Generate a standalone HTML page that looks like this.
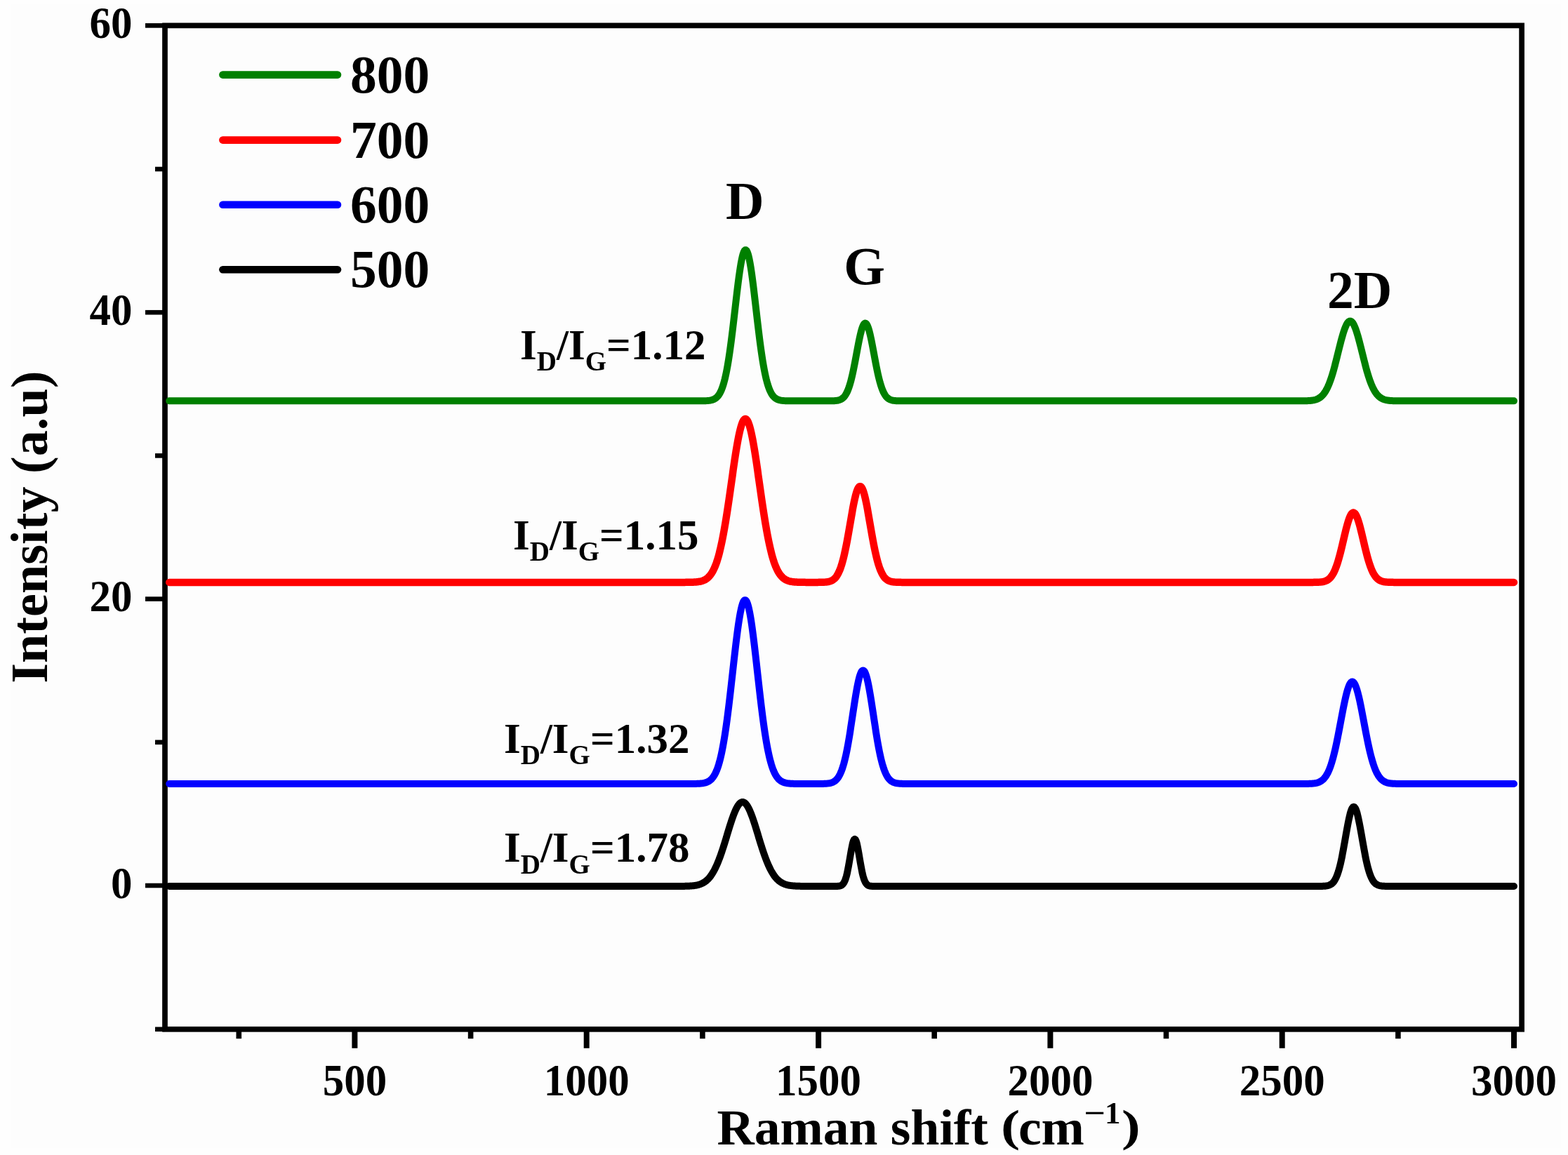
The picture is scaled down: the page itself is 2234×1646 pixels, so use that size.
<!DOCTYPE html>
<html><head><meta charset="utf-8"><title>Raman spectra</title>
<style>
html,body{margin:0;padding:0;background:#fefefe;}
svg{display:block;}
text{font-family:"Liberation Serif","Times New Roman",serif;font-weight:bold;fill:#000;}
</style></head><body>
<svg width="2234" height="1646" viewBox="0 0 2234 1646">
<rect x="0" y="0" width="2234" height="1646" fill="#fefefe"/>
<rect x="16" y="6" width="2208" height="1630" fill="#fdfdfd"/>

<rect x="235.0" y="36.4" width="1933.1" height="1430.4" fill="none" stroke="#000" stroke-width="7.7" stroke-linejoin="miter"/>
<path d="M241.2,571.35 L994.7,571.34 L995.7,571.34 L996.7,571.33 L997.7,571.33 L998.7,571.32 L999.7,571.31 L1000.7,571.30 L1001.7,571.29 L1002.7,571.27 L1003.7,571.24 L1004.7,571.21 L1005.7,571.17 L1006.7,571.12 L1007.7,571.06 L1008.7,570.98 L1009.7,570.88 L1010.7,570.76 L1011.7,570.61 L1012.7,570.42 L1013.7,570.19 L1014.7,569.92 L1015.7,569.59 L1016.7,569.19 L1017.7,568.71 L1018.7,568.14 L1019.7,567.46 L1020.7,566.67 L1021.7,565.73 L1022.7,564.64 L1023.7,563.36 L1024.7,561.90 L1025.7,560.21 L1026.7,558.27 L1027.7,556.07 L1028.7,553.58 L1029.7,550.77 L1030.7,547.62 L1031.7,544.12 L1032.7,540.24 L1033.7,535.96 L1034.7,531.27 L1035.7,526.16 L1036.7,520.62 L1037.7,514.66 L1038.7,508.27 L1039.7,501.49 L1040.7,494.31 L1041.7,486.77 L1042.7,478.91 L1043.7,470.77 L1044.7,462.39 L1045.7,453.84 L1046.7,445.17 L1047.7,436.48 L1048.7,427.82 L1049.7,419.28 L1050.7,410.95 L1051.7,402.91 L1052.7,395.26 L1053.7,388.07 L1054.7,381.44 L1055.7,375.44 L1056.7,370.14 L1057.7,365.62 L1058.7,361.93 L1059.7,359.12 L1060.7,357.22 L1061.7,356.27 L1062.7,356.27 L1063.7,357.22 L1064.7,359.12 L1065.7,361.93 L1066.7,365.62 L1067.7,370.14 L1068.7,375.44 L1069.7,381.44 L1070.7,388.07 L1071.7,395.26 L1072.7,402.91 L1073.7,410.95 L1074.7,419.28 L1075.7,427.82 L1076.7,436.48 L1077.7,445.17 L1078.7,453.84 L1079.7,462.39 L1080.7,470.77 L1081.7,478.91 L1082.7,486.77 L1083.7,494.31 L1084.7,501.49 L1085.7,508.27 L1086.7,514.66 L1087.7,520.62 L1088.7,526.16 L1089.7,531.27 L1090.7,535.96 L1091.7,540.24 L1092.7,544.12 L1093.7,547.62 L1094.7,550.77 L1095.7,553.58 L1096.7,556.07 L1097.7,558.27 L1098.7,560.21 L1099.7,561.90 L1100.7,563.36 L1101.7,564.64 L1102.7,565.73 L1103.7,566.67 L1104.7,567.46 L1105.7,568.14 L1106.7,568.71 L1107.7,569.19 L1108.7,569.59 L1109.7,569.92 L1110.7,570.19 L1111.7,570.42 L1112.7,570.61 L1113.7,570.76 L1114.7,570.88 L1115.7,570.98 L1116.7,571.06 L1117.7,571.12 L1118.7,571.17 L1119.7,571.21 L1120.7,571.24 L1121.7,571.27 L1122.7,571.29 L1123.7,571.30 L1124.7,571.31 L1125.7,571.32 L1126.7,571.33 L1127.7,571.33 L1128.7,571.34 L1129.7,571.34 L1176.8,571.35 L1177.8,571.34 L1178.8,571.34 L1179.8,571.34 L1180.8,571.33 L1181.8,571.33 L1182.8,571.32 L1183.8,571.30 L1184.8,571.28 L1185.8,571.26 L1186.8,571.23 L1187.8,571.19 L1188.8,571.14 L1189.8,571.07 L1190.8,570.98 L1191.8,570.86 L1192.8,570.72 L1193.8,570.53 L1194.8,570.30 L1195.8,570.02 L1196.8,569.66 L1197.8,569.23 L1198.8,568.70 L1199.8,568.06 L1200.8,567.29 L1201.8,566.37 L1202.8,565.29 L1203.8,564.02 L1204.8,562.54 L1205.8,560.82 L1206.8,558.86 L1207.8,556.62 L1208.8,554.10 L1209.8,551.27 L1210.8,548.13 L1211.8,544.67 L1212.8,540.89 L1213.8,536.81 L1214.8,532.43 L1215.8,527.77 L1216.8,522.87 L1217.8,517.76 L1218.8,512.51 L1219.8,507.15 L1220.8,501.75 L1221.8,496.38 L1222.8,491.12 L1223.8,486.05 L1224.8,481.23 L1225.8,476.76 L1226.8,472.71 L1227.8,469.14 L1228.8,466.13 L1229.8,463.72 L1230.8,461.97 L1231.8,460.91 L1232.8,460.55 L1233.7,460.91 L1234.7,461.97 L1235.7,463.72 L1236.7,466.13 L1237.7,469.14 L1238.7,472.71 L1239.7,476.76 L1240.7,481.23 L1241.7,486.05 L1242.7,491.12 L1243.7,496.38 L1244.7,501.75 L1245.7,507.15 L1246.7,512.51 L1247.7,517.76 L1248.7,522.87 L1249.7,527.77 L1250.7,532.43 L1251.7,536.81 L1252.7,540.89 L1253.7,544.67 L1254.7,548.13 L1255.7,551.27 L1256.7,554.10 L1257.7,556.62 L1258.7,558.86 L1259.7,560.82 L1260.7,562.54 L1261.7,564.02 L1262.7,565.29 L1263.7,566.37 L1264.7,567.29 L1265.7,568.06 L1266.7,568.70 L1267.7,569.23 L1268.7,569.66 L1269.7,570.02 L1270.7,570.30 L1271.7,570.53 L1272.7,570.72 L1273.7,570.86 L1274.7,570.98 L1275.7,571.07 L1276.7,571.14 L1277.7,571.19 L1278.7,571.23 L1279.7,571.26 L1280.7,571.28 L1281.7,571.30 L1282.7,571.32 L1283.7,571.33 L1284.7,571.33 L1285.7,571.34 L1286.7,571.34 L1287.7,571.34 L1288.7,571.35 L1846.8,571.35 L1847.8,571.34 L1848.8,571.34 L1849.8,571.34 L1850.8,571.34 L1851.8,571.33 L1852.8,571.33 L1853.8,571.32 L1854.8,571.32 L1855.8,571.31 L1856.8,571.30 L1857.8,571.28 L1858.8,571.27 L1859.7,571.25 L1860.7,571.22 L1861.7,571.19 L1862.7,571.15 L1863.7,571.11 L1864.7,571.05 L1865.7,570.99 L1866.7,570.91 L1867.7,570.81 L1868.7,570.70 L1869.7,570.57 L1870.7,570.41 L1871.7,570.23 L1872.7,570.01 L1873.7,569.76 L1874.7,569.46 L1875.7,569.12 L1876.7,568.73 L1877.7,568.28 L1878.7,567.77 L1879.7,567.18 L1880.7,566.51 L1881.7,565.75 L1882.7,564.90 L1883.7,563.95 L1884.7,562.88 L1885.7,561.69 L1886.7,560.36 L1887.7,558.91 L1888.7,557.30 L1889.7,555.55 L1890.7,553.63 L1891.7,551.55 L1892.7,549.30 L1893.7,546.88 L1894.7,544.29 L1895.7,541.52 L1896.7,538.58 L1897.7,535.48 L1898.7,532.21 L1899.7,528.80 L1900.7,525.24 L1901.7,521.56 L1902.6,517.76 L1903.6,513.88 L1904.6,509.92 L1905.6,505.91 L1906.6,501.88 L1907.6,497.85 L1908.6,493.86 L1909.6,489.92 L1910.6,486.08 L1911.6,482.36 L1912.6,478.79 L1913.6,475.42 L1914.6,472.25 L1915.6,469.33 L1916.6,466.69 L1917.6,464.34 L1918.6,462.31 L1919.6,460.62 L1920.6,459.29 L1921.6,458.32 L1922.6,457.74 L1923.6,457.55 L1924.6,457.74 L1925.6,458.32 L1926.6,459.29 L1927.6,460.62 L1928.6,462.31 L1929.6,464.34 L1930.6,466.69 L1931.6,469.33 L1932.6,472.25 L1933.6,475.42 L1934.6,478.79 L1935.6,482.36 L1936.6,486.08 L1937.6,489.92 L1938.6,493.86 L1939.6,497.85 L1940.6,501.88 L1941.6,505.91 L1942.6,509.92 L1943.6,513.88 L1944.6,517.76 L1945.5,521.56 L1946.5,525.24 L1947.5,528.80 L1948.5,532.21 L1949.5,535.48 L1950.5,538.58 L1951.5,541.52 L1952.5,544.29 L1953.5,546.88 L1954.5,549.30 L1955.5,551.55 L1956.5,553.63 L1957.5,555.55 L1958.5,557.30 L1959.5,558.91 L1960.5,560.36 L1961.5,561.69 L1962.5,562.88 L1963.5,563.95 L1964.5,564.90 L1965.5,565.75 L1966.5,566.51 L1967.5,567.18 L1968.5,567.77 L1969.5,568.28 L1970.5,568.73 L1971.5,569.12 L1972.5,569.46 L1973.5,569.76 L1974.5,570.01 L1975.5,570.23 L1976.5,570.41 L1977.5,570.57 L1978.5,570.70 L1979.5,570.81 L1980.5,570.91 L1981.5,570.99 L1982.5,571.05 L1983.5,571.11 L1984.5,571.15 L1985.5,571.19 L1986.5,571.22 L1987.5,571.25 L1988.4,571.27 L1989.4,571.28 L1990.4,571.30 L1991.4,571.31 L1992.4,571.32 L1993.4,571.32 L1994.4,571.33 L1995.4,571.33 L1996.4,571.34 L1997.4,571.34 L1998.4,571.34 L1999.4,571.34 L2000.4,571.35 L2157.0,571.35" fill="none" stroke="#008000" stroke-width="10.0" stroke-linejoin="round" stroke-linecap="round"/>
<path d="M241.2,829.90 L971.9,829.89 L972.9,829.89 L973.9,829.89 L974.9,829.88 L975.9,829.88 L976.9,829.87 L977.9,829.87 L978.9,829.86 L979.9,829.85 L980.9,829.84 L981.9,829.82 L982.9,829.81 L983.9,829.79 L984.9,829.76 L985.9,829.73 L986.9,829.70 L987.9,829.66 L988.8,829.61 L989.8,829.55 L990.8,829.48 L991.8,829.40 L992.8,829.31 L993.8,829.20 L994.8,829.07 L995.8,828.92 L996.8,828.74 L997.8,828.54 L998.8,828.31 L999.8,828.04 L1000.8,827.73 L1001.8,827.38 L1002.8,826.97 L1003.8,826.51 L1004.8,825.99 L1005.8,825.40 L1006.8,824.73 L1007.7,823.98 L1008.7,823.13 L1009.7,822.18 L1010.7,821.12 L1011.7,819.94 L1012.7,818.63 L1013.7,817.18 L1014.7,815.58 L1015.7,813.82 L1016.7,811.88 L1017.7,809.76 L1018.7,807.44 L1019.7,804.93 L1020.7,802.19 L1021.7,799.24 L1022.7,796.05 L1023.7,792.62 L1024.7,788.95 L1025.6,785.03 L1026.6,780.85 L1027.6,776.42 L1028.6,771.73 L1029.6,766.78 L1030.6,761.58 L1031.6,756.14 L1032.6,750.46 L1033.6,744.56 L1034.6,738.44 L1035.6,732.12 L1036.6,725.63 L1037.6,718.98 L1038.6,712.20 L1039.6,705.32 L1040.6,698.35 L1041.6,691.34 L1042.6,684.32 L1043.6,677.32 L1044.5,670.37 L1045.5,663.52 L1046.5,656.81 L1047.5,650.27 L1048.5,643.94 L1049.5,637.87 L1050.5,632.09 L1051.5,626.63 L1052.5,621.54 L1053.5,616.85 L1054.5,612.60 L1055.5,608.81 L1056.5,605.50 L1057.5,602.71 L1058.5,600.45 L1059.5,598.74 L1060.5,597.60 L1061.5,597.02 L1062.4,597.02 L1063.4,597.60 L1064.4,598.74 L1065.4,600.45 L1066.4,602.71 L1067.4,605.50 L1068.4,608.81 L1069.4,612.60 L1070.4,616.85 L1071.4,621.54 L1072.4,626.63 L1073.4,632.09 L1074.4,637.87 L1075.4,643.94 L1076.4,650.27 L1077.4,656.81 L1078.4,663.52 L1079.4,670.37 L1080.3,677.32 L1081.3,684.32 L1082.3,691.34 L1083.3,698.35 L1084.3,705.32 L1085.3,712.20 L1086.3,718.98 L1087.3,725.63 L1088.3,732.12 L1089.3,738.44 L1090.3,744.56 L1091.3,750.46 L1092.3,756.14 L1093.3,761.58 L1094.3,766.78 L1095.3,771.73 L1096.3,776.42 L1097.3,780.85 L1098.3,785.03 L1099.2,788.95 L1100.2,792.62 L1101.2,796.05 L1102.2,799.24 L1103.2,802.19 L1104.2,804.93 L1105.2,807.44 L1106.2,809.76 L1107.2,811.88 L1108.2,813.82 L1109.2,815.58 L1110.2,817.18 L1111.2,818.63 L1112.2,819.94 L1113.2,821.12 L1114.2,822.18 L1115.2,823.13 L1116.2,823.98 L1117.1,824.73 L1118.1,825.40 L1119.1,825.99 L1120.1,826.51 L1121.1,826.97 L1122.1,827.38 L1123.1,827.73 L1124.1,828.04 L1125.1,828.31 L1126.1,828.54 L1127.1,828.74 L1128.1,828.92 L1129.1,829.07 L1130.1,829.20 L1131.1,829.31 L1132.1,829.40 L1133.1,829.48 L1134.1,829.55 L1135.1,829.61 L1136.0,829.66 L1137.0,829.70 L1138.0,829.73 L1139.0,829.76 L1140.0,829.79 L1141.0,829.81 L1142.0,829.82 L1143.0,829.84 L1144.0,829.85 L1145.0,829.86 L1146.0,829.87 L1147.0,829.87 L1148.0,829.88 L1149.0,829.88 L1150.0,829.89 L1151.0,829.89 L1152.0,829.89 L1161.2,829.89 L1162.2,829.89 L1163.2,829.89 L1164.2,829.89 L1165.2,829.88 L1166.2,829.87 L1167.2,829.87 L1168.2,829.86 L1169.2,829.84 L1170.2,829.82 L1171.1,829.80 L1172.1,829.77 L1173.1,829.73 L1174.1,829.68 L1175.1,829.62 L1176.1,829.55 L1177.1,829.45 L1178.1,829.34 L1179.1,829.19 L1180.1,829.01 L1181.1,828.80 L1182.1,828.53 L1183.1,828.21 L1184.1,827.83 L1185.1,827.37 L1186.1,826.83 L1187.1,826.19 L1188.1,825.43 L1189.1,824.55 L1190.1,823.53 L1191.1,822.35 L1192.1,820.99 L1193.0,819.43 L1194.0,817.67 L1195.0,815.68 L1196.0,813.44 L1197.0,810.95 L1198.0,808.18 L1199.0,805.13 L1200.0,801.78 L1201.0,798.15 L1202.0,794.21 L1203.0,789.98 L1204.0,785.47 L1205.0,780.69 L1206.0,775.66 L1207.0,770.40 L1208.0,764.96 L1209.0,759.35 L1210.0,753.64 L1211.0,747.86 L1212.0,742.08 L1213.0,736.34 L1214.0,730.71 L1214.9,725.26 L1215.9,720.04 L1216.9,715.12 L1217.9,710.56 L1218.9,706.42 L1219.9,702.76 L1220.9,699.63 L1221.9,697.07 L1222.9,695.12 L1223.9,693.80 L1224.9,693.13 L1225.9,693.13 L1226.9,693.80 L1227.9,695.12 L1228.9,697.07 L1229.9,699.63 L1230.9,702.76 L1231.9,706.42 L1232.9,710.56 L1233.9,715.12 L1234.9,720.04 L1235.9,725.26 L1236.8,730.71 L1237.8,736.34 L1238.8,742.08 L1239.8,747.86 L1240.8,753.64 L1241.8,759.35 L1242.8,764.96 L1243.8,770.40 L1244.8,775.66 L1245.8,780.69 L1246.8,785.47 L1247.8,789.98 L1248.8,794.21 L1249.8,798.15 L1250.8,801.78 L1251.8,805.13 L1252.8,808.18 L1253.8,810.95 L1254.8,813.44 L1255.8,815.68 L1256.8,817.67 L1257.8,819.43 L1258.7,820.99 L1259.7,822.35 L1260.7,823.53 L1261.7,824.55 L1262.7,825.43 L1263.7,826.19 L1264.7,826.83 L1265.7,827.37 L1266.7,827.83 L1267.7,828.21 L1268.7,828.53 L1269.7,828.80 L1270.7,829.01 L1271.7,829.19 L1272.7,829.34 L1273.7,829.45 L1274.7,829.55 L1275.7,829.62 L1276.7,829.68 L1277.7,829.73 L1278.7,829.77 L1279.7,829.80 L1280.6,829.82 L1281.6,829.84 L1282.6,829.86 L1283.6,829.87 L1284.6,829.88 L1285.6,829.88 L1286.6,829.89 L1287.6,829.89 L1288.6,829.89 L1289.6,829.89 L1864.8,829.90 L1865.8,829.89 L1866.8,829.89 L1867.8,829.89 L1868.8,829.89 L1869.8,829.88 L1870.7,829.88 L1871.7,829.87 L1872.7,829.86 L1873.7,829.84 L1874.7,829.82 L1875.7,829.80 L1876.7,829.77 L1877.7,829.74 L1878.7,829.69 L1879.7,829.63 L1880.7,829.56 L1881.7,829.46 L1882.7,829.35 L1883.7,829.21 L1884.7,829.04 L1885.7,828.83 L1886.7,828.58 L1887.7,828.28 L1888.7,827.92 L1889.7,827.50 L1890.7,826.99 L1891.7,826.40 L1892.7,825.70 L1893.7,824.90 L1894.7,823.97 L1895.7,822.90 L1896.7,821.68 L1897.7,820.29 L1898.7,818.73 L1899.7,816.98 L1900.7,815.03 L1901.7,812.87 L1902.7,810.49 L1903.7,807.89 L1904.7,805.07 L1905.7,802.03 L1906.7,798.78 L1907.7,795.32 L1908.7,791.66 L1909.7,787.83 L1910.7,783.85 L1911.7,779.75 L1912.7,775.55 L1913.7,771.30 L1914.7,767.03 L1915.7,762.79 L1916.7,758.62 L1917.7,754.58 L1918.7,750.70 L1919.7,747.03 L1920.7,743.64 L1921.7,740.55 L1922.7,737.82 L1923.7,735.48 L1924.7,733.56 L1925.7,732.10 L1926.7,731.11 L1927.7,730.61 L1928.7,730.61 L1929.7,731.11 L1930.7,732.10 L1931.7,733.56 L1932.7,735.48 L1933.7,737.82 L1934.7,740.55 L1935.7,743.64 L1936.7,747.03 L1937.7,750.70 L1938.7,754.58 L1939.7,758.62 L1940.7,762.79 L1941.7,767.03 L1942.7,771.30 L1943.7,775.55 L1944.7,779.75 L1945.7,783.85 L1946.7,787.83 L1947.7,791.66 L1948.7,795.32 L1949.7,798.78 L1950.7,802.03 L1951.7,805.07 L1952.7,807.89 L1953.7,810.49 L1954.7,812.87 L1955.7,815.03 L1956.7,816.98 L1957.7,818.73 L1958.7,820.29 L1959.7,821.68 L1960.7,822.90 L1961.7,823.97 L1962.7,824.90 L1963.7,825.70 L1964.7,826.40 L1965.7,826.99 L1966.7,827.50 L1967.7,827.92 L1968.7,828.28 L1969.7,828.58 L1970.7,828.83 L1971.7,829.04 L1972.7,829.21 L1973.7,829.35 L1974.7,829.46 L1975.7,829.56 L1976.7,829.63 L1977.7,829.69 L1978.7,829.74 L1979.7,829.77 L1980.7,829.80 L1981.7,829.82 L1982.7,829.84 L1983.7,829.86 L1984.7,829.87 L1985.7,829.88 L1986.6,829.88 L1987.6,829.89 L1988.6,829.89 L1989.6,829.89 L1990.6,829.89 L1991.6,829.90 L2157.0,829.90" fill="none" stroke="#ff0000" stroke-width="10.5" stroke-linejoin="round" stroke-linecap="round"/>
<path d="M241.2,1117.00 L982.0,1116.99 L983.0,1116.99 L984.0,1116.98 L985.0,1116.98 L986.0,1116.97 L987.0,1116.96 L988.0,1116.95 L989.0,1116.94 L990.0,1116.93 L991.0,1116.91 L992.0,1116.89 L993.0,1116.86 L994.0,1116.82 L995.0,1116.78 L996.0,1116.73 L997.0,1116.67 L998.0,1116.59 L999.0,1116.50 L1000.0,1116.39 L1001.0,1116.26 L1002.0,1116.10 L1003.0,1115.91 L1004.0,1115.69 L1005.0,1115.43 L1006.0,1115.12 L1007.0,1114.75 L1008.0,1114.33 L1009.0,1113.83 L1010.0,1113.26 L1011.0,1112.60 L1012.0,1111.83 L1013.0,1110.95 L1014.0,1109.95 L1015.0,1108.80 L1016.0,1107.50 L1017.0,1106.02 L1018.0,1104.36 L1019.0,1102.49 L1020.0,1100.41 L1021.0,1098.08 L1022.0,1095.49 L1023.0,1092.62 L1024.0,1089.47 L1025.0,1086.00 L1026.0,1082.21 L1027.0,1078.09 L1028.0,1073.61 L1029.0,1068.77 L1030.0,1063.56 L1031.0,1057.98 L1032.0,1052.03 L1033.0,1045.70 L1034.0,1039.01 L1035.0,1031.96 L1036.0,1024.57 L1037.0,1016.86 L1038.0,1008.86 L1039.0,1000.59 L1040.0,992.09 L1041.0,983.39 L1042.0,974.55 L1043.0,965.61 L1044.0,956.62 L1045.0,947.64 L1046.0,938.74 L1047.0,929.96 L1048.0,921.38 L1049.0,913.06 L1050.0,905.06 L1051.0,897.46 L1052.0,890.31 L1053.0,883.68 L1054.0,877.62 L1055.0,872.19 L1056.0,867.44 L1057.0,863.41 L1058.0,860.14 L1059.0,857.66 L1060.0,855.99 L1061.0,855.15 L1062.0,855.15 L1063.0,855.99 L1064.0,857.66 L1065.0,860.14 L1066.0,863.41 L1067.0,867.44 L1068.0,872.19 L1069.0,877.62 L1070.0,883.68 L1071.0,890.31 L1072.0,897.46 L1073.0,905.06 L1074.0,913.06 L1075.0,921.38 L1076.0,929.96 L1077.0,938.74 L1078.0,947.64 L1079.0,956.62 L1080.0,965.61 L1081.0,974.55 L1082.0,983.39 L1083.0,992.09 L1084.0,1000.59 L1085.0,1008.86 L1086.0,1016.86 L1087.0,1024.57 L1088.0,1031.96 L1089.0,1039.01 L1090.0,1045.70 L1091.0,1052.03 L1092.0,1057.98 L1093.0,1063.56 L1094.0,1068.77 L1095.0,1073.61 L1096.0,1078.09 L1097.0,1082.21 L1098.0,1086.00 L1099.0,1089.47 L1100.0,1092.62 L1101.0,1095.49 L1102.0,1098.08 L1103.0,1100.41 L1104.0,1102.49 L1105.0,1104.36 L1106.0,1106.02 L1107.0,1107.50 L1108.0,1108.80 L1109.0,1109.95 L1110.0,1110.95 L1111.0,1111.83 L1112.0,1112.60 L1113.0,1113.26 L1114.0,1113.83 L1115.0,1114.33 L1116.0,1114.75 L1117.0,1115.12 L1118.0,1115.43 L1119.0,1115.69 L1120.0,1115.91 L1121.0,1116.10 L1122.0,1116.26 L1123.0,1116.39 L1124.0,1116.50 L1125.0,1116.59 L1126.0,1116.67 L1127.0,1116.73 L1128.0,1116.78 L1129.0,1116.82 L1130.0,1116.86 L1131.0,1116.89 L1132.0,1116.91 L1133.0,1116.93 L1134.0,1116.94 L1135.0,1116.95 L1136.0,1116.96 L1137.0,1116.97 L1138.0,1116.98 L1139.0,1116.98 L1140.0,1116.99 L1141.0,1116.99 L1163.3,1116.99 L1164.3,1116.99 L1165.3,1116.99 L1166.3,1116.98 L1167.3,1116.98 L1168.3,1116.97 L1169.3,1116.96 L1170.3,1116.95 L1171.3,1116.94 L1172.3,1116.92 L1173.3,1116.89 L1174.3,1116.86 L1175.3,1116.82 L1176.3,1116.77 L1177.2,1116.71 L1178.2,1116.63 L1179.2,1116.53 L1180.2,1116.41 L1181.2,1116.26 L1182.2,1116.08 L1183.2,1115.86 L1184.2,1115.59 L1185.2,1115.26 L1186.2,1114.88 L1187.2,1114.41 L1188.2,1113.87 L1189.2,1113.22 L1190.2,1112.46 L1191.2,1111.57 L1192.2,1110.54 L1193.2,1109.35 L1194.2,1107.98 L1195.2,1106.41 L1196.2,1104.62 L1197.2,1102.60 L1198.2,1100.33 L1199.2,1097.79 L1200.2,1094.96 L1201.2,1091.83 L1202.2,1088.39 L1203.2,1084.62 L1204.2,1080.53 L1205.2,1076.10 L1206.2,1071.35 L1207.2,1066.28 L1208.2,1060.90 L1209.2,1055.24 L1210.2,1049.32 L1211.2,1043.17 L1212.1,1036.82 L1213.1,1030.33 L1214.1,1023.74 L1215.1,1017.11 L1216.1,1010.50 L1217.1,1003.97 L1218.1,997.58 L1219.1,991.41 L1220.1,985.53 L1221.1,980.00 L1222.1,974.88 L1223.1,970.25 L1224.1,966.17 L1225.1,962.67 L1226.1,959.82 L1227.1,957.65 L1228.1,956.18 L1229.1,955.44 L1230.1,955.44 L1231.1,956.18 L1232.1,957.65 L1233.1,959.82 L1234.1,962.67 L1235.1,966.17 L1236.1,970.25 L1237.1,974.88 L1238.1,980.00 L1239.1,985.53 L1240.1,991.41 L1241.1,997.58 L1242.1,1003.97 L1243.1,1010.50 L1244.1,1017.11 L1245.1,1023.74 L1246.1,1030.33 L1247.1,1036.82 L1248.0,1043.17 L1249.0,1049.32 L1250.0,1055.24 L1251.0,1060.90 L1252.0,1066.28 L1253.0,1071.35 L1254.0,1076.10 L1255.0,1080.53 L1256.0,1084.62 L1257.0,1088.39 L1258.0,1091.83 L1259.0,1094.96 L1260.0,1097.79 L1261.0,1100.33 L1262.0,1102.60 L1263.0,1104.62 L1264.0,1106.41 L1265.0,1107.98 L1266.0,1109.35 L1267.0,1110.54 L1268.0,1111.57 L1269.0,1112.46 L1270.0,1113.22 L1271.0,1113.87 L1272.0,1114.41 L1273.0,1114.88 L1274.0,1115.26 L1275.0,1115.59 L1276.0,1115.86 L1277.0,1116.08 L1278.0,1116.26 L1279.0,1116.41 L1280.0,1116.53 L1281.0,1116.63 L1282.0,1116.71 L1282.9,1116.77 L1283.9,1116.82 L1284.9,1116.86 L1285.9,1116.89 L1286.9,1116.92 L1287.9,1116.94 L1288.9,1116.95 L1289.9,1116.96 L1290.9,1116.97 L1291.9,1116.98 L1292.9,1116.98 L1293.9,1116.99 L1294.9,1116.99 L1295.9,1116.99 L1852.3,1116.99 L1853.3,1116.99 L1854.3,1116.99 L1855.3,1116.99 L1856.3,1116.98 L1857.3,1116.98 L1858.3,1116.97 L1859.3,1116.96 L1860.3,1116.95 L1861.3,1116.94 L1862.3,1116.93 L1863.3,1116.91 L1864.3,1116.88 L1865.3,1116.85 L1866.3,1116.82 L1867.3,1116.77 L1868.3,1116.72 L1869.3,1116.65 L1870.3,1116.57 L1871.3,1116.47 L1872.3,1116.35 L1873.3,1116.21 L1874.3,1116.05 L1875.3,1115.85 L1876.3,1115.61 L1877.3,1115.33 L1878.3,1115.01 L1879.3,1114.63 L1880.3,1114.18 L1881.2,1113.67 L1882.2,1113.07 L1883.2,1112.39 L1884.2,1111.61 L1885.2,1110.71 L1886.2,1109.70 L1887.2,1108.55 L1888.2,1107.26 L1889.2,1105.81 L1890.2,1104.19 L1891.2,1102.39 L1892.2,1100.40 L1893.2,1098.21 L1894.2,1095.81 L1895.2,1093.18 L1896.2,1090.33 L1897.2,1087.25 L1898.2,1083.93 L1899.2,1080.37 L1900.2,1076.58 L1901.2,1072.55 L1902.2,1068.31 L1903.2,1063.85 L1904.2,1059.20 L1905.2,1054.37 L1906.2,1049.38 L1907.2,1044.26 L1908.2,1039.04 L1909.2,1033.75 L1910.2,1028.42 L1911.2,1023.10 L1912.2,1017.82 L1913.2,1012.62 L1914.2,1007.55 L1915.2,1002.65 L1916.2,997.97 L1917.2,993.54 L1918.2,989.42 L1919.2,985.64 L1920.2,982.25 L1921.2,979.26 L1922.2,976.73 L1923.2,974.67 L1924.2,973.10 L1925.2,972.05 L1926.2,971.52 L1927.1,971.52 L1928.1,972.05 L1929.1,973.10 L1930.1,974.67 L1931.1,976.73 L1932.1,979.26 L1933.1,982.25 L1934.1,985.64 L1935.1,989.42 L1936.1,993.54 L1937.1,997.97 L1938.1,1002.65 L1939.1,1007.55 L1940.1,1012.62 L1941.1,1017.82 L1942.1,1023.10 L1943.1,1028.42 L1944.1,1033.75 L1945.1,1039.04 L1946.1,1044.26 L1947.1,1049.38 L1948.1,1054.37 L1949.1,1059.20 L1950.1,1063.85 L1951.1,1068.31 L1952.1,1072.55 L1953.1,1076.58 L1954.1,1080.37 L1955.1,1083.93 L1956.1,1087.25 L1957.1,1090.33 L1958.1,1093.18 L1959.1,1095.81 L1960.1,1098.21 L1961.1,1100.40 L1962.1,1102.39 L1963.1,1104.19 L1964.1,1105.81 L1965.1,1107.26 L1966.1,1108.55 L1967.1,1109.70 L1968.1,1110.71 L1969.1,1111.61 L1970.1,1112.39 L1971.1,1113.07 L1972.1,1113.67 L1973.0,1114.18 L1974.0,1114.63 L1975.0,1115.01 L1976.0,1115.33 L1977.0,1115.61 L1978.0,1115.85 L1979.0,1116.05 L1980.0,1116.21 L1981.0,1116.35 L1982.0,1116.47 L1983.0,1116.57 L1984.0,1116.65 L1985.0,1116.72 L1986.0,1116.77 L1987.0,1116.82 L1988.0,1116.85 L1989.0,1116.88 L1990.0,1116.91 L1991.0,1116.93 L1992.0,1116.94 L1993.0,1116.95 L1994.0,1116.96 L1995.0,1116.97 L1996.0,1116.98 L1997.0,1116.98 L1998.0,1116.99 L1999.0,1116.99 L2000.0,1116.99 L2001.0,1116.99 L2157.0,1117.00" fill="none" stroke="#0000ff" stroke-width="10.0" stroke-linejoin="round" stroke-linecap="round"/>
<path d="M241.2,1263.00 L958.4,1263.00 L959.4,1262.99 L960.4,1262.99 L961.4,1262.99 L962.4,1262.99 L963.4,1262.99 L964.4,1262.98 L965.4,1262.98 L966.4,1262.98 L967.3,1262.97 L968.3,1262.97 L969.3,1262.96 L970.3,1262.95 L971.3,1262.94 L972.3,1262.93 L973.3,1262.92 L974.3,1262.91 L975.3,1262.89 L976.3,1262.87 L977.3,1262.84 L978.3,1262.82 L979.3,1262.78 L980.3,1262.75 L981.3,1262.70 L982.3,1262.65 L983.3,1262.60 L984.3,1262.53 L985.3,1262.46 L986.3,1262.37 L987.3,1262.27 L988.3,1262.16 L989.3,1262.03 L990.2,1261.89 L991.2,1261.73 L992.2,1261.54 L993.2,1261.33 L994.2,1261.10 L995.2,1260.84 L996.2,1260.55 L997.2,1260.23 L998.2,1259.86 L999.2,1259.46 L1000.2,1259.02 L1001.2,1258.53 L1002.2,1257.98 L1003.2,1257.39 L1004.2,1256.73 L1005.2,1256.02 L1006.2,1255.23 L1007.2,1254.38 L1008.2,1253.45 L1009.2,1252.44 L1010.2,1251.35 L1011.2,1250.18 L1012.2,1248.91 L1013.1,1247.55 L1014.1,1246.09 L1015.1,1244.54 L1016.1,1242.88 L1017.1,1241.11 L1018.1,1239.24 L1019.1,1237.26 L1020.1,1235.18 L1021.1,1232.98 L1022.1,1230.68 L1023.1,1228.27 L1024.1,1225.76 L1025.1,1223.14 L1026.1,1220.43 L1027.1,1217.63 L1028.1,1214.74 L1029.1,1211.77 L1030.1,1208.72 L1031.1,1205.61 L1032.1,1202.45 L1033.1,1199.24 L1034.1,1196.00 L1035.1,1192.73 L1036.0,1189.46 L1037.0,1186.19 L1038.0,1182.93 L1039.0,1179.70 L1040.0,1176.53 L1041.0,1173.41 L1042.0,1170.36 L1043.0,1167.41 L1044.0,1164.56 L1045.0,1161.83 L1046.0,1159.24 L1047.0,1156.79 L1048.0,1154.51 L1049.0,1152.40 L1050.0,1150.48 L1051.0,1148.76 L1052.0,1147.25 L1053.0,1145.95 L1054.0,1144.88 L1055.0,1144.04 L1056.0,1143.44 L1057.0,1143.07 L1058.0,1142.95 L1058.9,1143.07 L1059.9,1143.44 L1060.9,1144.04 L1061.9,1144.88 L1062.9,1145.95 L1063.9,1147.25 L1064.9,1148.76 L1065.9,1150.48 L1066.9,1152.40 L1067.9,1154.51 L1068.9,1156.79 L1069.9,1159.24 L1070.9,1161.83 L1071.9,1164.56 L1072.9,1167.41 L1073.9,1170.36 L1074.9,1173.41 L1075.9,1176.53 L1076.9,1179.70 L1077.9,1182.93 L1078.9,1186.19 L1079.9,1189.46 L1080.8,1192.73 L1081.8,1196.00 L1082.8,1199.24 L1083.8,1202.45 L1084.8,1205.61 L1085.8,1208.72 L1086.8,1211.77 L1087.8,1214.74 L1088.8,1217.63 L1089.8,1220.43 L1090.8,1223.14 L1091.8,1225.76 L1092.8,1228.27 L1093.8,1230.68 L1094.8,1232.98 L1095.8,1235.18 L1096.8,1237.26 L1097.8,1239.24 L1098.8,1241.11 L1099.8,1242.88 L1100.8,1244.54 L1101.8,1246.09 L1102.8,1247.55 L1103.7,1248.91 L1104.7,1250.18 L1105.7,1251.35 L1106.7,1252.44 L1107.7,1253.45 L1108.7,1254.38 L1109.7,1255.23 L1110.7,1256.02 L1111.7,1256.73 L1112.7,1257.39 L1113.7,1257.98 L1114.7,1258.53 L1115.7,1259.02 L1116.7,1259.46 L1117.7,1259.86 L1118.7,1260.23 L1119.7,1260.55 L1120.7,1260.84 L1121.7,1261.10 L1122.7,1261.33 L1123.7,1261.54 L1124.7,1261.73 L1125.7,1261.89 L1126.6,1262.03 L1127.6,1262.16 L1128.6,1262.27 L1129.6,1262.37 L1130.6,1262.46 L1131.6,1262.53 L1132.6,1262.60 L1133.6,1262.65 L1134.6,1262.70 L1135.6,1262.75 L1136.6,1262.78 L1137.6,1262.82 L1138.6,1262.84 L1139.6,1262.87 L1140.6,1262.89 L1141.6,1262.91 L1142.6,1262.92 L1143.6,1262.93 L1144.6,1262.94 L1145.6,1262.95 L1146.6,1262.96 L1147.6,1262.97 L1148.6,1262.97 L1149.5,1262.98 L1150.5,1262.98 L1151.5,1262.98 L1152.5,1262.99 L1153.5,1262.99 L1154.5,1262.99 L1155.5,1262.99 L1156.5,1262.99 L1157.5,1263.00 L1187.2,1263.00 L1188.2,1262.99 L1189.2,1262.99 L1190.2,1262.98 L1191.2,1262.97 L1192.2,1262.95 L1193.1,1262.91 L1194.1,1262.84 L1195.1,1262.75 L1196.1,1262.59 L1197.1,1262.36 L1198.1,1262.01 L1199.1,1261.51 L1200.0,1260.79 L1201.0,1259.81 L1202.0,1258.48 L1203.0,1256.74 L1204.0,1254.50 L1205.0,1251.70 L1206.0,1248.29 L1207.0,1244.26 L1207.9,1239.62 L1208.9,1234.44 L1209.9,1228.84 L1210.9,1222.99 L1211.9,1217.11 L1212.9,1211.48 L1213.9,1206.35 L1214.8,1202.02 L1215.8,1198.72 L1216.8,1196.65 L1217.8,1195.95 L1218.8,1196.65 L1219.8,1198.72 L1220.8,1202.02 L1221.7,1206.35 L1222.7,1211.48 L1223.7,1217.11 L1224.7,1222.99 L1225.7,1228.84 L1226.7,1234.44 L1227.7,1239.62 L1228.6,1244.26 L1229.6,1248.29 L1230.6,1251.70 L1231.6,1254.50 L1232.6,1256.74 L1233.6,1258.48 L1234.6,1259.81 L1235.6,1260.79 L1236.5,1261.51 L1237.5,1262.01 L1238.5,1262.36 L1239.5,1262.59 L1240.5,1262.75 L1241.5,1262.84 L1242.5,1262.91 L1243.4,1262.95 L1244.4,1262.97 L1245.4,1262.98 L1246.4,1262.99 L1247.4,1262.99 L1248.4,1263.00 L1875.2,1263.00 L1876.2,1262.99 L1877.2,1262.99 L1878.2,1262.99 L1879.2,1262.98 L1880.1,1262.97 L1881.1,1262.96 L1882.1,1262.95 L1883.1,1262.93 L1884.1,1262.90 L1885.1,1262.86 L1886.1,1262.82 L1887.1,1262.75 L1888.1,1262.67 L1889.1,1262.56 L1890.1,1262.42 L1891.0,1262.25 L1892.0,1262.02 L1893.0,1261.74 L1894.0,1261.39 L1895.0,1260.96 L1896.0,1260.42 L1897.0,1259.77 L1898.0,1258.98 L1899.0,1258.03 L1900.0,1256.90 L1901.0,1255.56 L1901.9,1254.00 L1902.9,1252.18 L1903.9,1250.08 L1904.9,1247.69 L1905.9,1244.97 L1906.9,1241.92 L1907.9,1238.53 L1908.9,1234.79 L1909.9,1230.70 L1910.9,1226.27 L1911.9,1221.52 L1912.8,1216.48 L1913.8,1211.20 L1914.8,1205.71 L1915.8,1200.08 L1916.8,1194.37 L1917.8,1188.67 L1918.8,1183.04 L1919.8,1177.59 L1920.8,1172.40 L1921.8,1167.55 L1922.8,1163.15 L1923.7,1159.26 L1924.7,1155.96 L1925.7,1153.33 L1926.7,1151.41 L1927.7,1150.24 L1928.7,1149.85 L1929.7,1150.24 L1930.7,1151.41 L1931.7,1153.33 L1932.7,1155.96 L1933.7,1159.26 L1934.6,1163.15 L1935.6,1167.55 L1936.6,1172.40 L1937.6,1177.59 L1938.6,1183.04 L1939.6,1188.67 L1940.6,1194.37 L1941.6,1200.08 L1942.6,1205.71 L1943.6,1211.20 L1944.6,1216.48 L1945.5,1221.52 L1946.5,1226.27 L1947.5,1230.70 L1948.5,1234.79 L1949.5,1238.53 L1950.5,1241.92 L1951.5,1244.97 L1952.5,1247.69 L1953.5,1250.08 L1954.5,1252.18 L1955.5,1254.00 L1956.4,1255.56 L1957.4,1256.90 L1958.4,1258.03 L1959.4,1258.98 L1960.4,1259.77 L1961.4,1260.42 L1962.4,1260.96 L1963.4,1261.39 L1964.4,1261.74 L1965.4,1262.02 L1966.4,1262.25 L1967.3,1262.42 L1968.3,1262.56 L1969.3,1262.67 L1970.3,1262.75 L1971.3,1262.82 L1972.3,1262.86 L1973.3,1262.90 L1974.3,1262.93 L1975.3,1262.95 L1976.3,1262.96 L1977.3,1262.97 L1978.2,1262.98 L1979.2,1262.99 L1980.2,1262.99 L1981.2,1262.99 L1982.2,1263.00 L2157.0,1263.00" fill="none" stroke="#000000" stroke-width="10.0" stroke-linejoin="round" stroke-linecap="round"/>
<line x1="505.4" y1="1466.8" x2="505.4" y2="1493.8" stroke="#000" stroke-width="8"/>
<line x1="835.7" y1="1466.8" x2="835.7" y2="1493.8" stroke="#000" stroke-width="8"/>
<line x1="1166.1" y1="1466.8" x2="1166.1" y2="1493.8" stroke="#000" stroke-width="8"/>
<line x1="1496.4" y1="1466.8" x2="1496.4" y2="1493.8" stroke="#000" stroke-width="8"/>
<line x1="1826.7" y1="1466.8" x2="1826.7" y2="1493.8" stroke="#000" stroke-width="8"/>
<line x1="2157.0" y1="1466.8" x2="2157.0" y2="1493.8" stroke="#000" stroke-width="8"/>
<line x1="340.3" y1="1466.8" x2="340.3" y2="1480.2" stroke="#000" stroke-width="7.6"/>
<line x1="670.6" y1="1466.8" x2="670.6" y2="1480.2" stroke="#000" stroke-width="7.6"/>
<line x1="1000.9" y1="1466.8" x2="1000.9" y2="1480.2" stroke="#000" stroke-width="7.6"/>
<line x1="1331.2" y1="1466.8" x2="1331.2" y2="1480.2" stroke="#000" stroke-width="7.6"/>
<line x1="1661.5" y1="1466.8" x2="1661.5" y2="1480.2" stroke="#000" stroke-width="7.6"/>
<line x1="1991.9" y1="1466.8" x2="1991.9" y2="1480.2" stroke="#000" stroke-width="7.6"/>
<line x1="207" y1="1262.0" x2="235.0" y2="1262.0" stroke="#000" stroke-width="6.6"/>
<line x1="207" y1="853.6" x2="235.0" y2="853.6" stroke="#000" stroke-width="6.6"/>
<line x1="207" y1="445.2" x2="235.0" y2="445.2" stroke="#000" stroke-width="6.6"/>
<line x1="207" y1="36.4" x2="235.0" y2="36.4" stroke="#000" stroke-width="6.6"/>
<line x1="221" y1="1466.8" x2="235.0" y2="1466.8" stroke="#000" stroke-width="6.6"/>
<line x1="221" y1="1057.8" x2="235.0" y2="1057.8" stroke="#000" stroke-width="6.6"/>
<line x1="221" y1="649.4" x2="235.0" y2="649.4" stroke="#000" stroke-width="6.6"/>
<line x1="221" y1="241.0" x2="235.0" y2="241.0" stroke="#000" stroke-width="6.6"/>
<text transform="translate(505.4,1561) scale(1,1.035)" font-size="61" text-anchor="middle">500</text>
<text transform="translate(835.7,1561) scale(1,1.035)" font-size="61" text-anchor="middle">1000</text>
<text transform="translate(1166.1,1561) scale(1,1.035)" font-size="61" text-anchor="middle">1500</text>
<text transform="translate(1496.4,1561) scale(1,1.035)" font-size="61" text-anchor="middle">2000</text>
<text transform="translate(1826.7,1561) scale(1,1.035)" font-size="61" text-anchor="middle">2500</text>
<text transform="translate(2157.0,1561) scale(1,1.035)" font-size="61" text-anchor="middle">3000</text>
<text transform="translate(188.5,1279.8) scale(1,1.025)" font-size="61" text-anchor="end">0</text>
<text transform="translate(188.5,871.4) scale(1,1.025)" font-size="61" text-anchor="end">20</text>
<text transform="translate(188.5,463.0) scale(1,1.025)" font-size="61" text-anchor="end">40</text>
<text transform="translate(188.5,54.2) scale(1,1.025)" font-size="61" text-anchor="end">60</text>
<text transform="translate(1021.6,1630.6) scale(1.019,1)" font-size="72.2">Raman shift</text>
<text transform="translate(1426.1,1626.3) scale(1.11,0.857)" font-size="73.6">(</text>
<text transform="translate(1450.9,1630.6) scale(1.019,1)" font-size="72.2">cm</text>
<text transform="translate(1544.4,1601) scale(1.2,1)" font-size="45">−</text>
<text x="1574.1" y="1601" font-size="45">1</text>
<text transform="translate(1598.0,1626.3) scale(1.09,0.857)" font-size="73.6">)</text>
<text transform="translate(67.4,973.8) rotate(-90)" font-size="74.2">Intensity (a.u)</text>
<line x1="317.4" y1="106.6" x2="481" y2="106.6" stroke="#008000" stroke-width="10.6" stroke-linecap="round"/>
<text x="499" y="132.3" font-size="75.5">800</text>
<line x1="317.4" y1="199.6" x2="481" y2="199.6" stroke="#ff0000" stroke-width="10.6" stroke-linecap="round"/>
<text x="499" y="224.8" font-size="75.5">700</text>
<line x1="317.4" y1="291.8" x2="481" y2="291.8" stroke="#0000ff" stroke-width="10.6" stroke-linecap="round"/>
<text x="499" y="316.6" font-size="75.5">600</text>
<line x1="317.4" y1="384.3" x2="481" y2="384.3" stroke="#000000" stroke-width="10.6" stroke-linecap="round"/>
<text x="499" y="409.0" font-size="75.5">500</text>
<text x="1033.9" y="311.6" font-size="75.5">D</text>
<text x="1202.3" y="404.6" font-size="75.5">G</text>
<text x="1890.9" y="439.4" font-size="75.5">2D</text>
<text x="741.1" y="512.0" font-size="61">I</text>
<text x="764.8" y="528.2" font-size="39">D</text>
<text x="793.0" y="512.0" font-size="61">/I</text>
<text x="833.7" y="528.2" font-size="39">G</text>
<text x="864.0" y="512.0" font-size="61">=1.12</text>
<text x="731.1" y="782.6" font-size="61">I</text>
<text x="754.8" y="798.8" font-size="39">D</text>
<text x="783.0" y="782.6" font-size="61">/I</text>
<text x="823.7" y="798.8" font-size="39">G</text>
<text x="854.0" y="782.6" font-size="61">=1.15</text>
<text x="718.0" y="1073.0" font-size="61">I</text>
<text x="741.7" y="1089.2" font-size="39">D</text>
<text x="769.9" y="1073.0" font-size="61">/I</text>
<text x="810.6" y="1089.2" font-size="39">G</text>
<text x="840.9" y="1073.0" font-size="61">=1.32</text>
<text x="718.0" y="1228.4" font-size="61">I</text>
<text x="741.7" y="1244.6" font-size="39">D</text>
<text x="769.9" y="1228.4" font-size="61">/I</text>
<text x="810.6" y="1244.6" font-size="39">G</text>
<text x="840.9" y="1228.4" font-size="61">=1.78</text>
</svg>
</body></html>
